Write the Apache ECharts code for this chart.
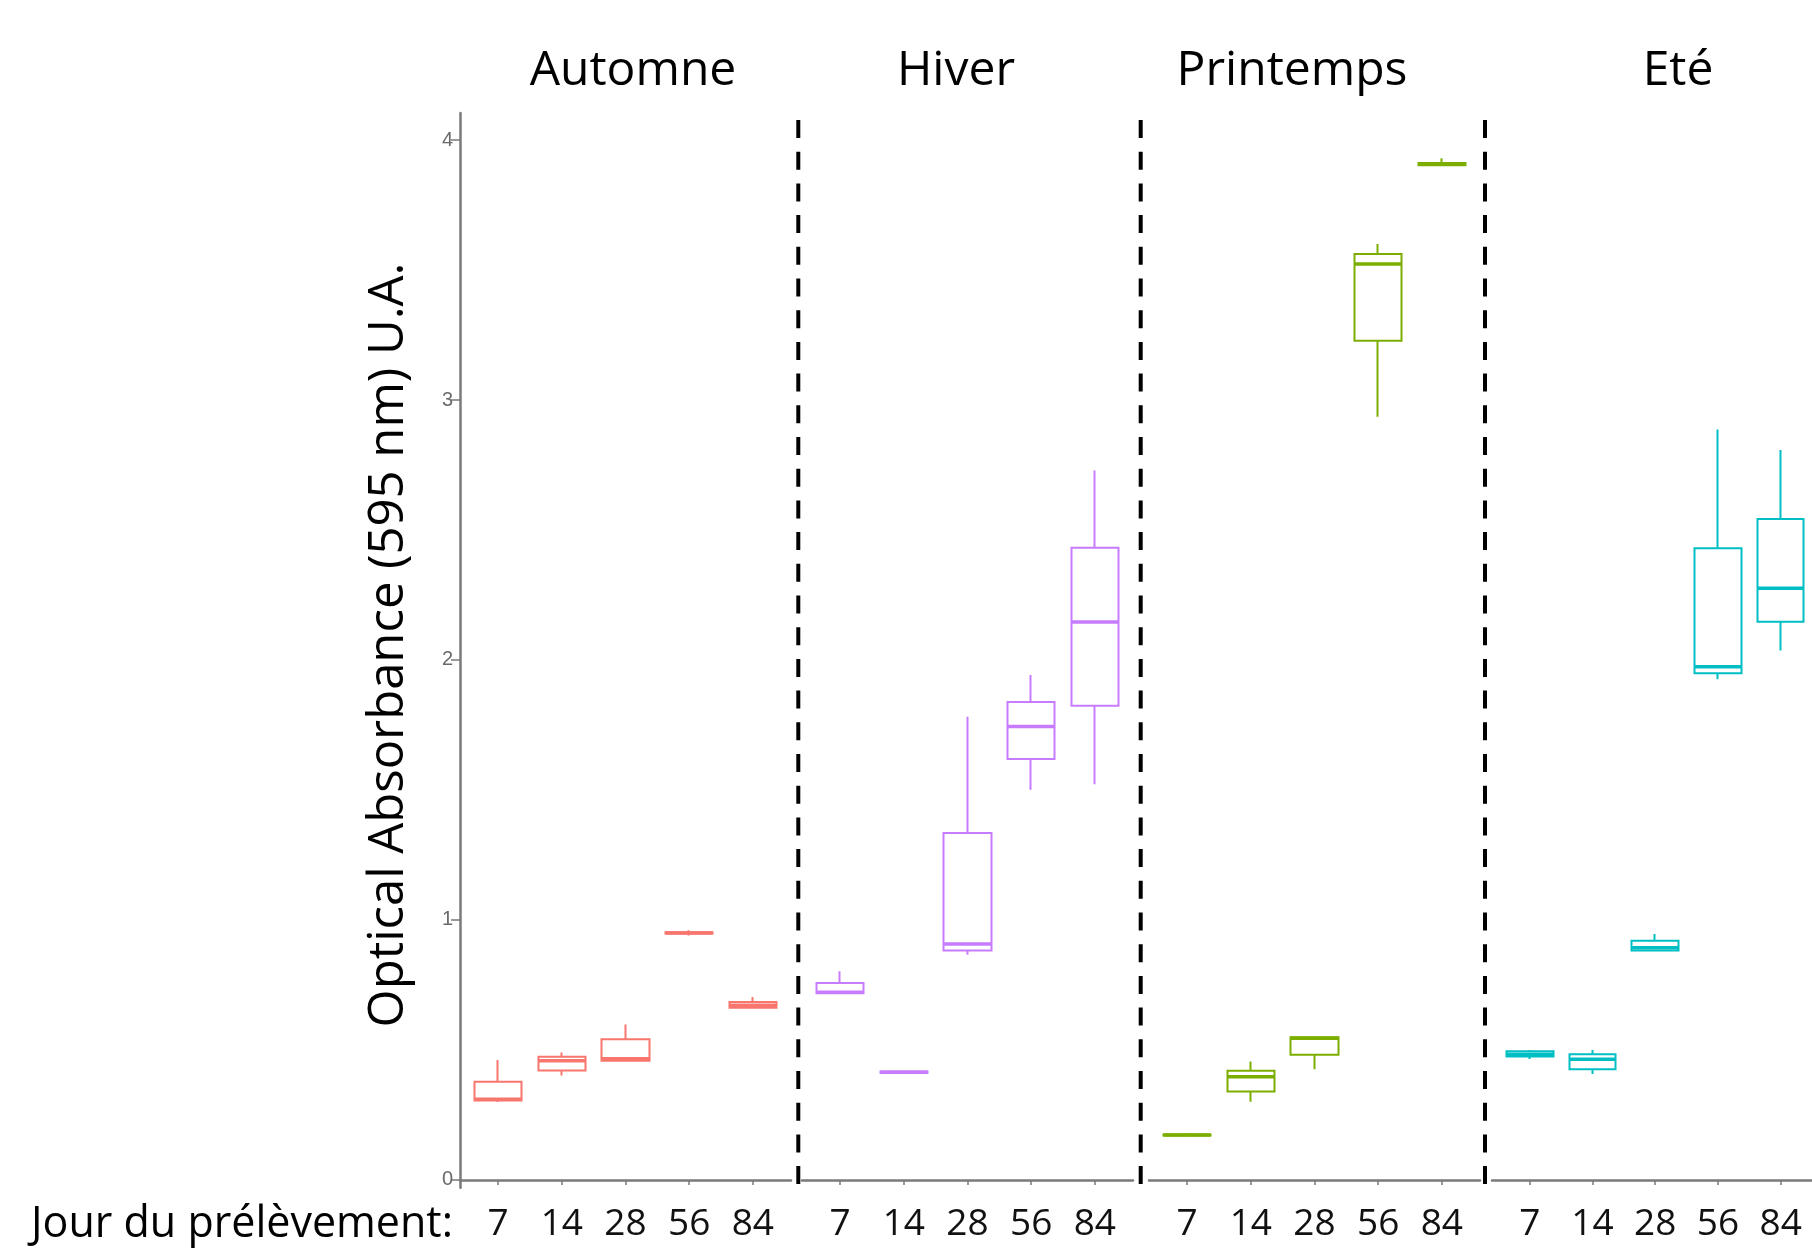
<!DOCTYPE html>
<html><head><meta charset="utf-8">
<script src="https://cdn.jsdelivr.net/npm/echarts@6/dist/echarts.min.js"></script>
<style>html,body{margin:0;padding:0;background:#fff}#c{width:1812px;height:1249px}</style>
</head><body><div id="c"></div>
<script>
// ---- data ----
const days = ['7', '14', '28', '56', '84'];
const seasons = ['Automne', 'Hiver', 'Printemps', 'Eté'];
const seasonColors = ['#F8766D', '#C77CFF', '#7CAE00', '#00BFC4'];
// each box: [min, Q1, median, Q3, max]
const automne = [[0.300, 0.305, 0.310, 0.378, 0.461], [0.402, 0.421, 0.458, 0.474, 0.490], [0.455, 0.458, 0.466, 0.541, 0.598], [0.940, 0.948, 0.950, 0.953, 0.960], [0.660, 0.662, 0.672, 0.684, 0.704]];
const hiver = [[0.715, 0.718, 0.722, 0.757, 0.803], [0.410, 0.412, 0.414, 0.417, 0.420], [0.866, 0.882, 0.907, 1.334, 1.782], [1.501, 1.619, 1.744, 1.838, 1.942], [1.522, 1.824, 2.146, 2.432, 2.729]];
const printemps = [[0.170, 0.171, 0.173, 0.175, 0.180], [0.301, 0.340, 0.397, 0.420, 0.455], [0.426, 0.481, 0.545, 0.549, 0.549], [2.936, 3.228, 3.523, 3.562, 3.600], [3.900, 3.903, 3.908, 3.912, 3.930]];
const ete = [[0.465, 0.475, 0.483, 0.495, 0.500], [0.407, 0.426, 0.464, 0.483, 0.500], [0.880, 0.882, 0.893, 0.920, 0.946], [1.926, 1.949, 1.974, 2.430, 2.887], [2.036, 2.147, 2.276, 2.542, 2.808]];
const yTicks = [0, 1, 2, 3, 4];
const yTitle = 'Optical Absorbance (595 nm) U.A.';
const xTitle = 'Jour du prélèvement:';

// ---- layout ----
const seasonData = [automne, hiver, printemps, ete];
const FONT = 'Open Sans';
const panelLeft = [460, 802, 1149, 1492];
const panelWidth = 331;
const gridTop = 113, gridBottomY = 1187.7;
const gridHeight = gridBottomY - gridTop;
const unit = panelWidth / 5.2;
const yMin = -0.03, yMax = 4.104;
const axisGrey = '#7a7a7a';
const titleX = [633, 956, 1292, 1678];
const sepX = [798.3, 1140.7, 1485];

const grids = [], xAxes = [], yAxes = [], series = [];
for (let p = 0; p < 4; p++) {
  grids.push({ left: panelLeft[p] + 0.1 * unit, width: 5 * unit, top: gridTop, height: gridHeight });
}
for (let p = 0; p < 4; p++) {
  grids.push({ left: panelLeft[p], width: panelWidth, top: gridTop, height: gridHeight });
}
for (let p = 0; p < 4; p++) {
  xAxes.push({
    gridIndex: p, type: 'category', data: days, boundaryGap: true,
    axisLine: { show: false },
    axisTick: { show: true, alignWithLabel: true, length: 5, lineStyle: { color: axisGrey, width: 1.5 } },
    axisLabel: { show: true, margin: 18, fontSize: 37, fontFamily: FONT, color: '#111' },
    splitLine: { show: false }
  });
  yAxes.push({ gridIndex: p, type: 'value', min: yMin, max: yMax, show: false });
}
for (let p = 0; p < 4; p++) {
  xAxes.push({
    gridIndex: 4 + p, type: 'category', data: days, boundaryGap: true,
    axisLine: { show: true, lineStyle: { color: axisGrey, width: 2.5 } },
    axisTick: { show: false }, axisLabel: { show: false }, splitLine: { show: false }
  });
  if (p === 0) {
    yAxes.push({
      gridIndex: 4, type: 'value', min: yMin, max: yMax,
      axisLine: { show: true, lineStyle: { color: axisGrey, width: 2.5 } },
      axisTick: { show: true, customValues: yTicks, length: 9, lineStyle: { color: axisGrey, width: 1.5 } },
      axisLabel: { show: true, customValues: yTicks, margin: 7, fontSize: 20, fontFamily: 'Liberation Sans', color: '#6a6a6a' },
      splitLine: { show: false }
    });
  } else {
    yAxes.push({ gridIndex: 4 + p, type: 'value', min: yMin, max: yMax, show: false });
  }
}
for (let p = 0; p < 4; p++) {
  const c = seasonColors[p];
  const d = seasonData[p];
  series.push({
    type: 'candlestick', name: seasons[p], xAxisIndex: p, yAxisIndex: p,
    barWidth: '75%',
    data: d.map(b => [b[1], b[3], b[0], b[4]]),
    itemStyle: { color: '#fff', color0: '#fff', borderColor: c, borderColor0: c, borderColorDoji: c, borderWidth: 2 },
    silent: true, z: 2
  });
  series.push({
    type: 'candlestick', name: seasons[p] + ' médiane', xAxisIndex: p, yAxisIndex: p,
    barWidth: '75%',
    data: d.map(b => [b[2], b[2], b[2], b[2]]),
    itemStyle: { color: c, color0: c, borderColor: c, borderColor0: c, borderColorDoji: c, borderWidth: 3.5 },
    silent: true, z: 3
  });
}

const graphics = [];
seasons.forEach((s, i) => {
  graphics.push({ type: 'text', x: titleX[i], y: 71, style: { text: s, fontSize: 48, fontFamily: FONT, fill: '#000', align: 'center', verticalAlign: 'middle', textAlign: 'center', textVerticalAlign: 'middle' } });
});
sepX.forEach(x => {
  graphics.push({ type: 'line', shape: { x1: x, y1: 120, x2: x, y2: 1190 }, style: { stroke: '#000', lineWidth: 4, lineDash: [18, 13.7] } });
});
graphics.push({ type: 'text', x: 389, y: 645, rotation: Math.PI / 2, style: { text: yTitle, fontSize: 49, fontFamily: FONT, fill: '#000', align: 'center', verticalAlign: 'middle', textAlign: 'center', textVerticalAlign: 'middle' } });
graphics.push({ type: 'text', x: 31, y: 1225, style: { text: xTitle, fontSize: 43, fontFamily: FONT, fill: '#000', align: 'left', verticalAlign: 'middle', textAlign: 'left', textVerticalAlign: 'middle' } });

const chart = echarts.init(document.getElementById('c'), null, { renderer: 'canvas' });
chart.setOption({
  backgroundColor: '#fff',
  animation: false,
  grid: grids, xAxis: xAxes, yAxis: yAxes, series: series,
  graphic: graphics
});
</script>
</body></html>
